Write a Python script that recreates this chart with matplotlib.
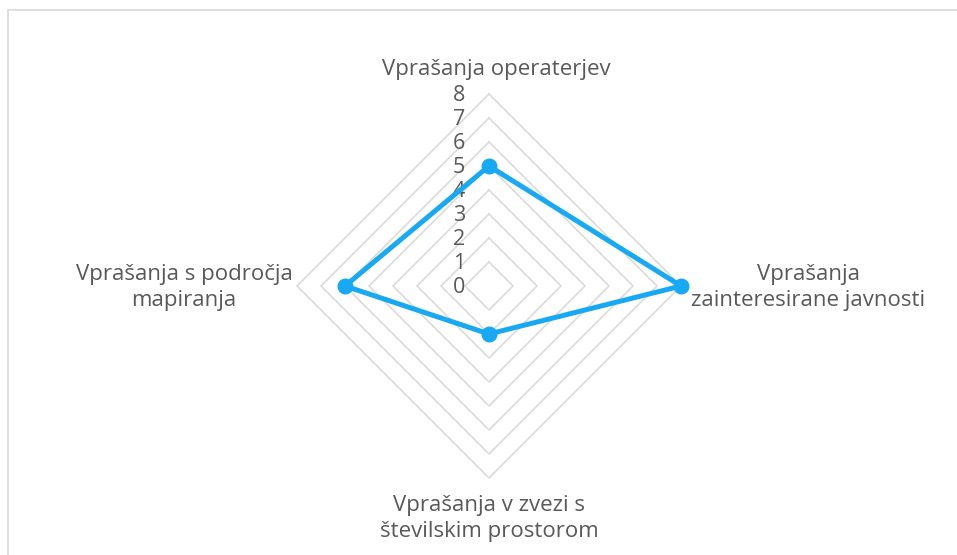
import numpy as np
import matplotlib.pyplot as plt

categories = ["Vprašanja operaterjev",
              "Vprašanja\nzainteresirane javnosti",
              "Vprašanja v zvezi s\nštevilskim prostorom",
              "Vprašanja s področja\nmapiranja"]
values = [5, 8, 2, 6]
levels = list(range(0, 9))

plt.rcParams['font.family'] = ['Open Sans', 'DejaVu Sans']
text_color = '#595959'
grid_color = '#D9D9D9'
line_color = '#18A9F5'

fig = plt.figure(figsize=(9.57, 5.55), dpi=100)
ax = fig.add_axes([0, 0, 1, 1])
# 24 px per unit, centre at pixel (489, 286 from top)
ax.set_xlim(-489 / 24, (957 - 489) / 24)
ax.set_ylim(-269 / 24, 286 / 24)
ax.axis('off')

angles = np.arange(len(categories)) * 2 * np.pi / len(categories)
sx, sy = np.sin(angles), np.cos(angles)

# grid diamonds
for lv in levels[1:]:
    ax.plot(np.append(sx, sx[0]) * lv, np.append(sy, sy[0]) * lv,
            color=grid_color, lw=1.1, zorder=1)

# radial tick labels
for lv in levels:
    ax.text(-1.0, lv - 0.05, str(lv), ha='right', va='center', fontsize=15.5,
            color=text_color, zorder=2)

# data series
v = np.array(values, dtype=float)
ax.plot(np.append(sx * v, sx[0] * v[0]), np.append(sy * v, sy[0] * v[0]),
        color=line_color, lw=3.6, zorder=3, solid_joinstyle='miter')
ax.plot(sx * v, sy * v, 'o', color=line_color, ms=10.5, zorder=4)

# category labels
label_pos = [(0.3, 9.0), (13.3, -0.05), (0, -9.7), (-12.7, -0.05)]
for lab, (x, y) in zip(categories, label_pos):
    ax.text(x, y, lab, ha='center', va='center', fontsize=16,
            color=text_color, linespacing=1.33, multialignment='center')

# chart frame
fig.add_artist(plt.Rectangle((8 / 957, -0.1), 2, 1.1 - 10 / 555,
                             transform=fig.transFigure, fill=False,
                             edgecolor='#D9D9D9', lw=1.2))

fig.savefig('out.png', dpi=100, facecolor='white')
